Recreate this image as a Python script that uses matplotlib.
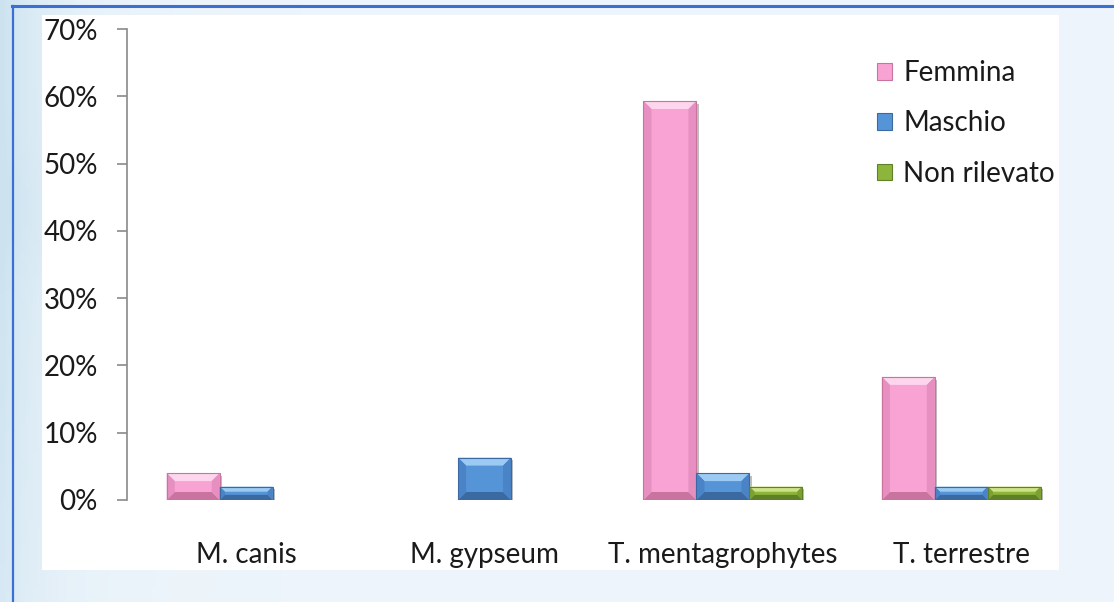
import numpy as np
import matplotlib
matplotlib.use("Agg")
import matplotlib.pyplot as plt
from matplotlib.patches import Polygon, Rectangle
from matplotlib.lines import Line2D
import matplotlib.patheffects as pe
from matplotlib.ticker import PercentFormatter

# ---- data -------------------------------------------------------------
categories = ["M. canis", "M. gypseum", "T. mentagrophytes", "T. terrestre"]
series_names = ["Femmina", "Maschio", "Non rilevato"]
femmina = [4.0, 0.0, 59.3, 18.3]
maschio = [2.0, 6.3, 4.0, 2.0]
non_rilevato = [0.0, 0.0, 2.0, 2.0]
y_ticks = [0, 10, 20, 30, 40, 50, 60, 70]

# face, top highlight, side, bottom colours per series
palettes = {
    "Femmina": ("#f8a3d4", "#fdd6ee", "#e68fc0", "#c9749f"),
    "Maschio": ("#5694d8", "#9ccaf2", "#4a84c6", "#3b69a2"),
    "Non rilevato": ("#8db53b", "#cde386", "#7aa132", "#5e8127"),
}

W, H = 1114, 602
fig = plt.figure(figsize=(W / 100, H / 100), dpi=100)
fig.patch.set_facecolor("#edf5fb")

# soft blue background
bg = fig.add_axes([0, 0, 1, 1], zorder=-10)
bg.set_axis_off()
xx = np.linspace(0, 1, 300)
yy = np.linspace(0, 1, 160)
X, Y = np.meshgrid(xx, yy)
left = np.exp(-X / 0.05) * (0.55 + 0.45 * np.clip(1.3 - Y * 1.0, 0, 1))
wave = 0.15 * np.exp(-((Y - 0.35 - 0.3 * X) ** 2) / 0.01) * np.exp(-X / 0.08)
t = np.clip(left + wave, 0, 1)
c0 = np.array([0.93, 0.96, 0.985])
c1 = np.array([0.80, 0.89, 0.94])
img = c0[None, None, :] * (1 - t[..., None]) + c1[None, None, :] * t[..., None]
bg.imshow(img, extent=[0, 1, 0, 1], aspect="auto", origin="upper")
bg.set_xlim(0, 1)
bg.set_ylim(0, 1)

# white chart area
fig.patches.append(Rectangle((42 / W, 1 - 570 / H), (1059 - 42) / W, (570 - 15) / H,
                             transform=fig.transFigure, facecolor="white",
                             edgecolor="none", zorder=-5))
# blue frame lines
fig.lines.append(Line2D([12 / W, 1], [1 - 5.5 / H] * 2, transform=fig.transFigure,
                        color="#3b6fd4", lw=2.2, zorder=5))
fig.lines.append(Line2D([12.5 / W] * 2, [0, 1 - 5.5 / H], transform=fig.transFigure,
                        color="#3b6fd4", lw=1.6, zorder=5))

ax_l, ax_r, ax_t, ax_b = 127, 1080.5, 29, 500
ax = fig.add_axes([ax_l / W, 1 - ax_b / H, (ax_r - ax_l) / W, (ax_b - ax_t) / H])
ax.set_facecolor("none")

font = "Lato"
x = np.arange(len(categories))
bw = 1 / 4.5
values = [femmina, maschio, non_rilevato]
containers = []
for i, (name, vals) in enumerate(zip(series_names, values)):
    face = palettes[name][0]
    bars = ax.bar(x + (i - 1) * bw, vals, width=bw, color=face, edgecolor="none",
                  label=name, zorder=2)
    for b in bars:
        b.set_path_effects([pe.SimplePatchShadow(offset=(1.5, -2), shadow_rgbFace="#000000",
                                                 alpha=0.25), pe.Normal()])
    containers.append((name, bars))

ax.set_xlim(-0.5, len(categories) - 0.5)
ax.set_ylim(0, 70)
ax.set_yticks(y_ticks)
ax.yaxis.set_major_formatter(PercentFormatter(decimals=0))
ax.set_xticks(x)
ax.set_xticklabels(categories)

for s in ["top", "right", "bottom"]:
    ax.spines[s].set_visible(False)
ax.spines["left"].set_color("#8a8a8a")
ax.spines["left"].set_linewidth(1.2)
ax.tick_params(axis="y", direction="out", length=7, width=1.2, color="#8a8a8a",
               pad=14, labelsize=20, labelcolor="#1a1a1a")
ax.tick_params(axis="x", length=0, pad=30, labelsize=20, labelcolor="#1a1a1a")
for lbl in ax.get_xticklabels() + ax.get_yticklabels():
    lbl.set_fontfamily(font)

# bevel facets on each bar, computed in pixel space
fig.canvas.draw()
to_px = ax.transData
to_data = ax.transData.inverted()
for name, bars in containers:
    face, top_c, side_c, bot_c = palettes[name]
    for b in bars:
        h = b.get_height()
        if h <= 0:
            continue
        (x0, y0), (x1, y1) = to_px.transform([(b.get_x(), 0), (b.get_x() + b.get_width(), h)])
        bv = min(8.0, (y1 - y0) / 2.6)
        facets = [
            ([(x0, y1), (x1, y1), (x1 - bv, y1 - bv), (x0 + bv, y1 - bv)], top_c),
            ([(x0, y0), (x1, y0), (x1 - bv, y0 + bv), (x0 + bv, y0 + bv)], bot_c),
            ([(x0, y0), (x0, y1), (x0 + bv, y1 - bv), (x0 + bv, y0 + bv)], side_c),
            ([(x1, y0), (x1, y1), (x1 - bv, y1 - bv), (x1 - bv, y0 + bv)], side_c),
        ]
        for pts, col in facets:
            ax.add_patch(Polygon(to_data.transform(pts), closed=True, facecolor=col,
                                 edgecolor="none", zorder=3))
        ax.add_patch(Rectangle((b.get_x(), 0), b.get_width(), h, facecolor="none",
                               edgecolor=bot_c, lw=0.8, zorder=4))

handles = [Rectangle((0, 0), 1, 1, facecolor=palettes[n][0], edgecolor=palettes[n][3], lw=0.8)
           for n in series_names]
leg = fig.legend(handles, series_names, loc="upper left",
                 bbox_to_anchor=(877 / W, 1 - 60 / H), frameon=False,
                 prop={"family": font, "size": 20}, handlelength=0.55, handleheight=0.55,
                 handletextpad=0.4, labelspacing=0.88, borderpad=0, borderaxespad=0)
for txt in leg.get_texts():
    txt.set_color("#1a1a1a")

fig.savefig("out.png", dpi=100)
